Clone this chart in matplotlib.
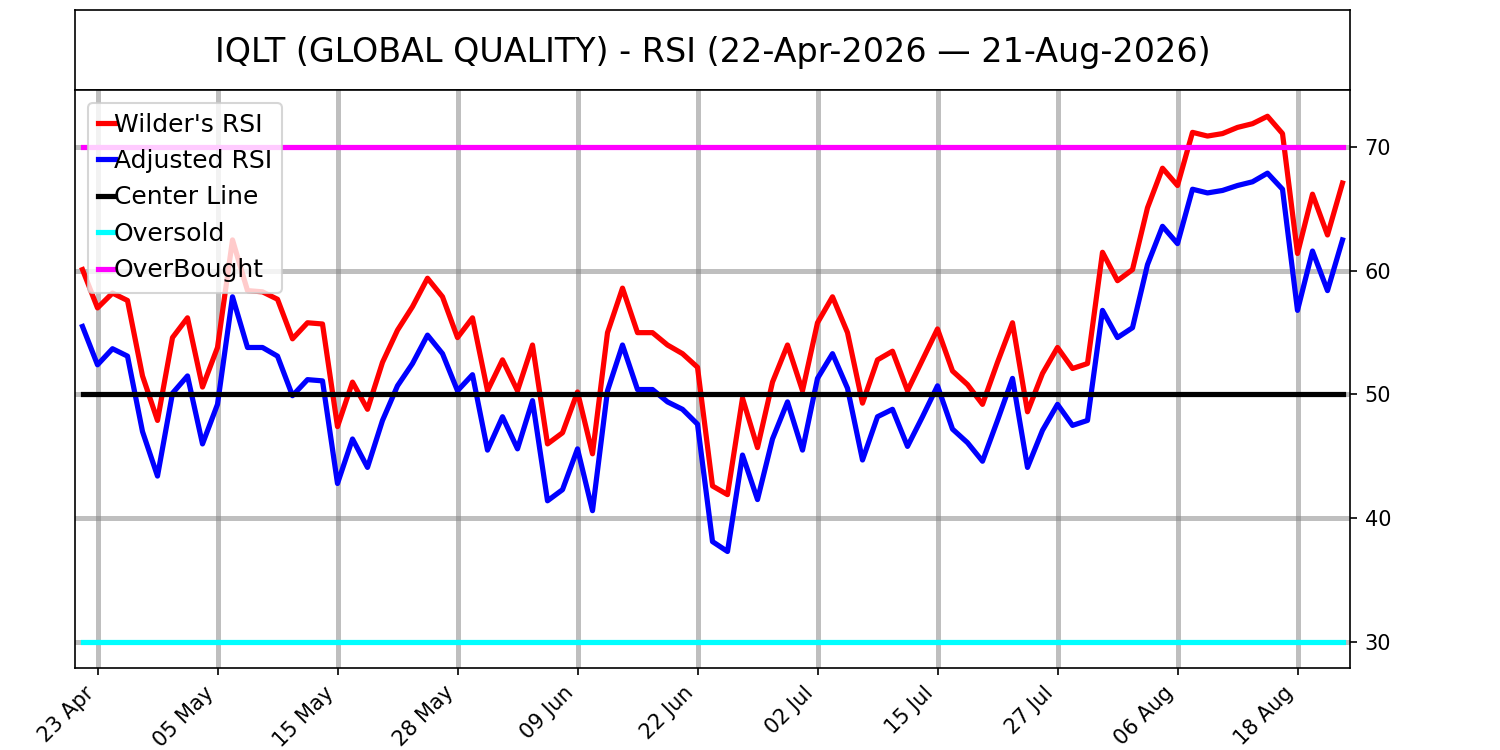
import numpy as np
import pandas as pd
import matplotlib
matplotlib.use("Agg")
import matplotlib.pyplot as plt

# trading days 22-Apr-2026 .. 21-Aug-2026 (US market holidays removed)
holidays = ["2026-05-25", "2026-06-19", "2026-07-03"]
dates = pd.bdate_range("2026-04-22", "2026-08-21", freq="C", holidays=holidays)

wilder_rsi = [
    60.1, 57.0, 58.2, 57.6, 51.5, 47.9, 54.6, 56.2, 50.6, 53.8,
    62.5, 58.4, 58.3, 57.7, 54.5, 55.8, 55.7, 47.4, 51.0, 48.8,
    52.6, 55.2, 57.1, 59.4, 57.9, 54.6, 56.2, 50.3, 52.8, 50.3,
    54.0, 46.0, 46.9, 50.2, 45.2, 55.0, 58.6, 55.0, 55.0, 54.0,
    53.3, 52.2, 42.6, 41.9, 49.7, 45.7, 51.0, 54.0, 50.3, 55.8,
    57.9, 55.0, 49.3, 52.8, 53.5, 50.3, 52.8, 55.3, 51.9, 50.8,
    49.2, 52.6, 55.8, 48.6, 51.7, 53.8, 52.1, 52.5, 61.5, 59.2,
    60.1, 65.1, 68.3, 66.9, 71.2, 70.9, 71.1, 71.6, 71.9, 72.5,
    71.1, 61.4, 66.2, 62.9, 67.1,
]
adjusted_rsi = [
    55.5, 52.4, 53.7, 53.1, 47.0, 43.4, 50.1, 51.5, 46.0, 49.2,
    57.9, 53.8, 53.8, 53.1, 49.9, 51.2, 51.1, 42.8, 46.4, 44.1,
    47.9, 50.7, 52.5, 54.8, 53.3, 50.3, 51.6, 45.5, 48.2, 45.6,
    49.5, 41.4, 42.3, 45.6, 40.6, 50.3, 54.0, 50.4, 50.4, 49.4,
    48.8, 47.6, 38.1, 37.3, 45.1, 41.5, 46.4, 49.4, 45.5, 51.3,
    53.3, 50.5, 44.7, 48.2, 48.8, 45.8, 48.2, 50.7, 47.2, 46.1,
    44.6, 47.9, 51.3, 44.1, 47.1, 49.2, 47.5, 47.9, 56.8, 54.6,
    55.4, 60.5, 63.6, 62.2, 66.6, 66.3, 66.5, 66.9, 67.2, 67.9,
    66.6, 56.8, 61.6, 58.4, 62.5,
]
center_level = 50
oversold_level = 30
overbought_level = 70

x = np.arange(len(dates))

fig = plt.figure(figsize=(10, 5), dpi=150)

# title box
tax = fig.add_axes([0.05, 0.88, 0.85, 0.1067])
tax.set_xticks([])
tax.set_yticks([])
tax.text(0.5, 0.47, "IQLT (GLOBAL QUALITY) - RSI (22-Apr-2026 \u2014 21-Aug-2026)",
         ha="center", va="center", fontsize=16, transform=tax.transAxes)

ax = fig.add_axes([0.05, 0.1093, 0.85, 0.7707])
ax.plot(x, wilder_rsi, color="red", lw=2.5, label="Wilder's RSI")
ax.plot(x, adjusted_rsi, color="blue", lw=2.5, label="Adjusted RSI")
ax.plot(x, np.full(len(x), center_level), color="black", lw=2.5, label="Center Line")
ax.plot(x, np.full(len(x), oversold_level), color="cyan", lw=2.5, label="Oversold")
ax.plot(x, np.full(len(x), overbought_level), color="magenta", lw=2.5, label="OverBought")

ax.set_xlim(-0.5, len(x) - 0.5)
ax.grid(True, color="grey", alpha=0.5, lw=2.4)
ax.set_axisbelow(True)

tick_idx = x[1::8]
ax.set_xticks(tick_idx)
ax.set_xticklabels([dates[i].strftime("%d %b") for i in tick_idx], rotation=45, ha="right")
ax.set_yticks([30, 40, 50, 60, 70])
ax.yaxis.tick_right()

ax.legend(loc="upper left", fontsize=12, handlelength=0.7, handletextpad=-0.05)

fig.savefig("out.png", dpi=150)
